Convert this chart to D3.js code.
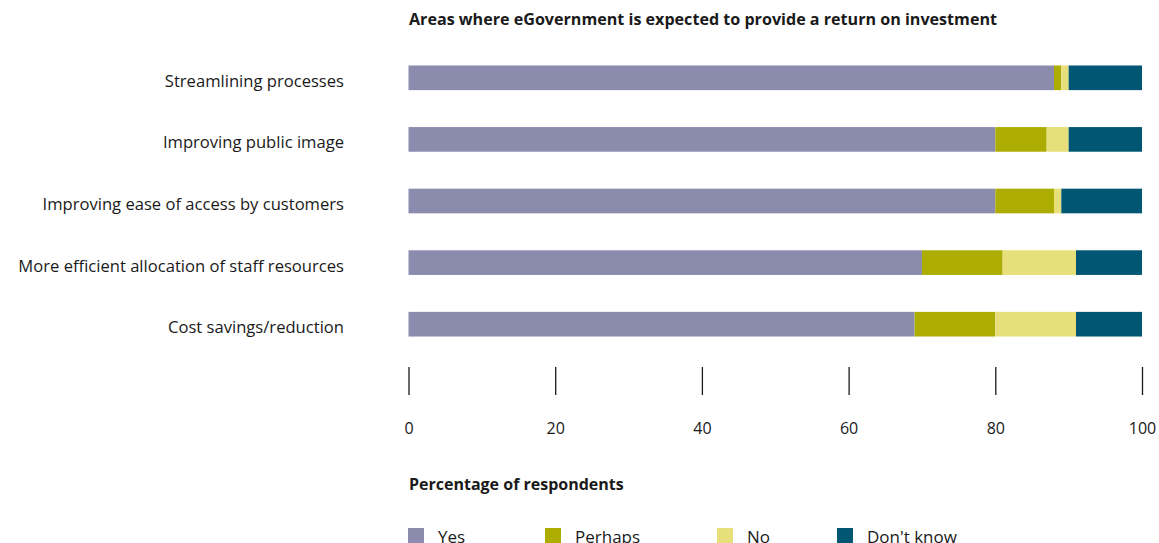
<!DOCTYPE html>
<html>
<head>
<meta charset="utf-8">
<script src="https://cdn.jsdelivr.net/npm/d3@7"></script>
<style>
  html, body { margin: 0; padding: 0; background: #fff; }
  svg { display: block; font-family: "Open Sans", "Noto Sans", sans-serif; }
</style>
</head>
<body>
<svg id="chart" width="1159" height="543"></svg>
<script>
// Survey responses per area (percentage of respondents)
const categories = [
  "Streamlining processes",
  "Improving public image",
  "Improving ease of access by customers",
  "More efficient allocation of staff resources",
  "Cost savings/reduction"
];
const seriesNames = ["Yes", "Perhaps", "No", "Don't know"];
const yesValues = [88, 80, 80, 70, 69];
const perhapsValues = [1, 7, 8, 11, 11];
const noValues = [1, 3, 1, 10, 11];
const dontKnowValues = [10, 10, 11, 9, 9];
const tickValues = [0, 20, 40, 60, 80, 100];
const colors = ["#8a8bad", "#adac00", "#e6df7a", "#005673"];

const rows = categories.map((c, i) => ({
  category: c,
  "Yes": yesValues[i],
  "Perhaps": perhapsValues[i],
  "No": noValues[i],
  "Don't know": dontKnowValues[i]
}));

const svg = d3.select("#chart");

const x = d3.scaleLinear().domain([0, 100]).range([408.5, 1142]);
const y = d3.scaleBand().domain(categories).range([47, 355]).paddingInner(0.6).paddingOuter(0.3);
const color = d3.scaleOrdinal().domain(seriesNames).range(colors);

const stacked = d3.stack().keys(seriesNames)(rows);

// Title
svg.append("text")
  .attr("x", 409).attr("y", 25)
  .attr("font-size", 15.5).attr("font-weight", 700).attr("fill", "#1a1a1a")
  .attr("textLength", 588).attr("lengthAdjust", "spacingAndGlyphs")
  .text("Areas where eGovernment is expected to provide a return on investment");

// Stacked bars
svg.append("g").selectAll("g")
  .data(stacked)
  .join("g")
  .attr("fill", d => color(d.key))
  .selectAll("rect")
  .data(d => d)
  .join("rect")
  .attr("x", d => x(d[0]))
  .attr("y", d => y(d.data.category))
  .attr("width", d => x(d[1]) - x(d[0]))
  .attr("height", y.bandwidth());

// Category labels
svg.append("g").selectAll("text")
  .data(categories)
  .join("text")
  .attr("x", 344)
  .attr("y", d => y(d) + y.bandwidth() / 2 + 9)
  .attr("text-anchor", "end")
  .attr("font-size", 16.6).attr("fill", "#1a1a1a")
  .text(d => d);

// Value axis
const axis = d3.axisBottom(x).tickValues(tickValues).tickSize(28).tickPadding(28).tickFormat(d3.format("d"));
const axisG = svg.append("g").attr("transform", "translate(0,367)").call(axis);
axisG.select(".domain").remove();
axisG.selectAll(".tick line").attr("stroke", "#1a1a1a").attr("stroke-width", 1.3);
axisG.selectAll(".tick text")
  .attr("font-size", 16).attr("fill", "#1a1a1a")
  .attr("font-family", "\"Open Sans\", sans-serif");

// Axis title
svg.append("text")
  .attr("x", 409).attr("y", 490)
  .attr("font-size", 16).attr("font-weight", 700).attr("fill", "#1a1a1a")
  .text("Percentage of respondents");

// Legend
const legendX = [408, 545, 717, 837];
const legend = svg.append("g").selectAll("g")
  .data(seriesNames)
  .join("g")
  .attr("transform", (d, i) => `translate(${legendX[i]},528)`);
legend.append("rect")
  .attr("width", 16).attr("height", 16)
  .attr("fill", d => color(d));
legend.append("text")
  .attr("x", 30).attr("y", 15)
  .attr("font-size", 17).attr("fill", "#1a1a1a")
  .text(d => d);
</script>
</body>
</html>
